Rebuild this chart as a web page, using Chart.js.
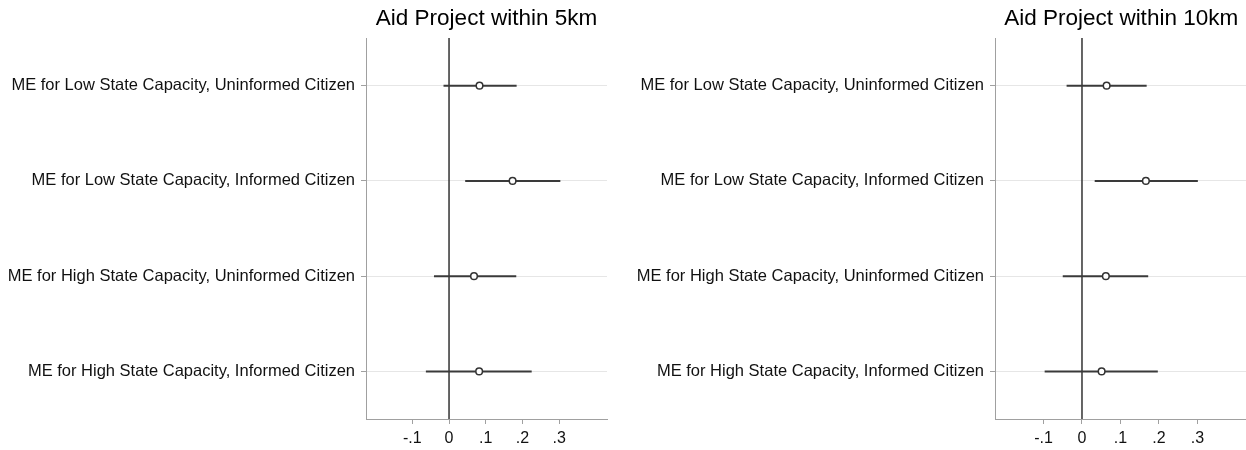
<!DOCTYPE html>
<html lang="en">
<head>
    <meta charset="UTF-8">
    <title>Aid Project marginal effects</title>
    <style>
        html, body {
            margin: 0;
            background: #ffffff;
            overflow: hidden;
            font-family: "Liberation Sans", Arial, sans-serif;
        }
        .wrap {
            position: relative;
            width: 1246px;
            height: 450px;
            overflow: hidden;
        }
        #leftChart {
            position: absolute;
            left: 0;
            top: 0;
        }
        #rightChart {
            position: absolute;
            left: 620px;
            top: 0;
        }
    </style>
</head>
<body>
    <div class="wrap">
        <canvas id="leftChart" width="620" height="450"></canvas>
        <canvas id="rightChart" width="633" height="450"></canvas>
    </div>

    <script src="https://cdn.jsdelivr.net/npm/chart.js"></script>
    <script>
        // row labels (top to bottom)
        const rowLabels = [
            'ME for Low State Capacity, Uninformed Citizen',
            'ME for Low State Capacity, Informed Citizen',
            'ME for High State Capacity, Uninformed Citizen',
            'ME for High State Capacity, Informed Citizen'
        ];
        const xTicks = [-0.1, 0, 0.1, 0.2, 0.3];

        // Aid Project within 5km
        const est5 = [0.083, 0.173, 0.068, 0.082];
        const lo5 = [-0.015, 0.044, -0.041, -0.063];
        const hi5 = [0.184, 0.303, 0.183, 0.225];

        // Aid Project within 10km
        const est10 = [0.064, 0.166, 0.062, 0.051];
        const lo10 = [-0.040, 0.033, -0.050, -0.097];
        const hi10 = [0.168, 0.301, 0.172, 0.197];

        function fmtTick(v) {
            const r = Math.round(v * 10) / 10;
            if (r === 0) return '0';
            return r.toString().replace('0.', '.');
        }

        function makeChart(id, title, est, lo, hi, yWidth, padRight) {
            const datasets = [];

            // zero reference line
            datasets.push({
                type: 'line',
                data: [{ x: 0, y: 0.5 }, { x: 0, y: 4.5 }],
                borderColor: '#333333',
                borderWidth: 1.5,
                pointRadius: 0,
                order: 3
            });

            // confidence intervals
            est.forEach(function(e, i) {
                datasets.push({
                    type: 'line',
                    data: [{ x: lo[i], y: i + 1 }, { x: hi[i], y: i + 1 }],
                    borderColor: '#3a3a3a',
                    borderWidth: 2,
                    pointRadius: 0,
                    order: 2
                });
            });

            // point estimates
            datasets.push({
                type: 'scatter',
                data: est.map(function(e, i) { return { x: e, y: i + 1 }; }),
                pointStyle: 'circle',
                pointRadius: 3.3,
                pointBorderWidth: 1.5,
                pointBorderColor: '#333333',
                pointBackgroundColor: '#ffffff',
                order: 1
            });

            return new Chart(document.getElementById(id), {
                type: 'scatter',
                data: { datasets: datasets },
                options: {
                    responsive: false,
                    animation: false,
                    layout: { padding: { left: 0, right: padRight, top: 0, bottom: 0 } },
                    plugins: {
                        legend: { display: false },
                        tooltip: { enabled: false },
                        title: {
                            display: true,
                            text: title,
                            fullSize: false,
                            color: '#000000',
                            font: { family: '"Liberation Sans", Arial', size: 22.5, weight: 'normal' },
                            padding: { top: 5, bottom: 6 }
                        }
                    },
                    scales: {
                        x: {
                            type: 'linear',
                            min: -0.226,
                            max: 0.43,
                            afterBuildTicks: function(axis) {
                                axis.ticks = xTicks.map(function(v) { return { value: v }; });
                            },
                            afterFit: function(axis) { axis.height = 31; },
                            border: { color: '#a0a0a0', width: 1 },
                            grid: {
                                color: 'rgba(0,0,0,0)',
                                tickColor: '#a0a0a0',
                                tickLength: 5
                            },
                            ticks: {
                                color: '#111111',
                                padding: 5,
                                font: { family: '"Liberation Sans", Arial', size: 16 },
                                callback: function(v) { return fmtTick(v); }
                            }
                        },
                        y: {
                            type: 'linear',
                            min: 0.5,
                            max: 4.5,
                            reverse: true,
                            afterBuildTicks: function(axis) {
                                axis.ticks = rowLabels.map(function(l, i) { return { value: i + 1 }; });
                            },
                            afterFit: function(axis) { axis.width = yWidth; },
                            border: { color: '#a0a0a0', width: 1 },
                            grid: {
                                color: '#e6e6e6',
                                tickColor: '#a0a0a0',
                                tickLength: 5
                            },
                            ticks: {
                                color: '#111111',
                                padding: 6,
                                font: { family: '"Liberation Sans", Arial', size: 16.5 },
                                callback: function(v) { return rowLabels[Math.round(v) - 1]; }
                            }
                        }
                    }
                }
            });
        }

        makeChart('leftChart', 'Aid Project within 5km', est5, lo5, hi5, 366, 13);
        makeChart('rightChart', 'Aid Project within 10km', est10, lo10, hi10, 375, 0);
    </script>
</body>
</html>
